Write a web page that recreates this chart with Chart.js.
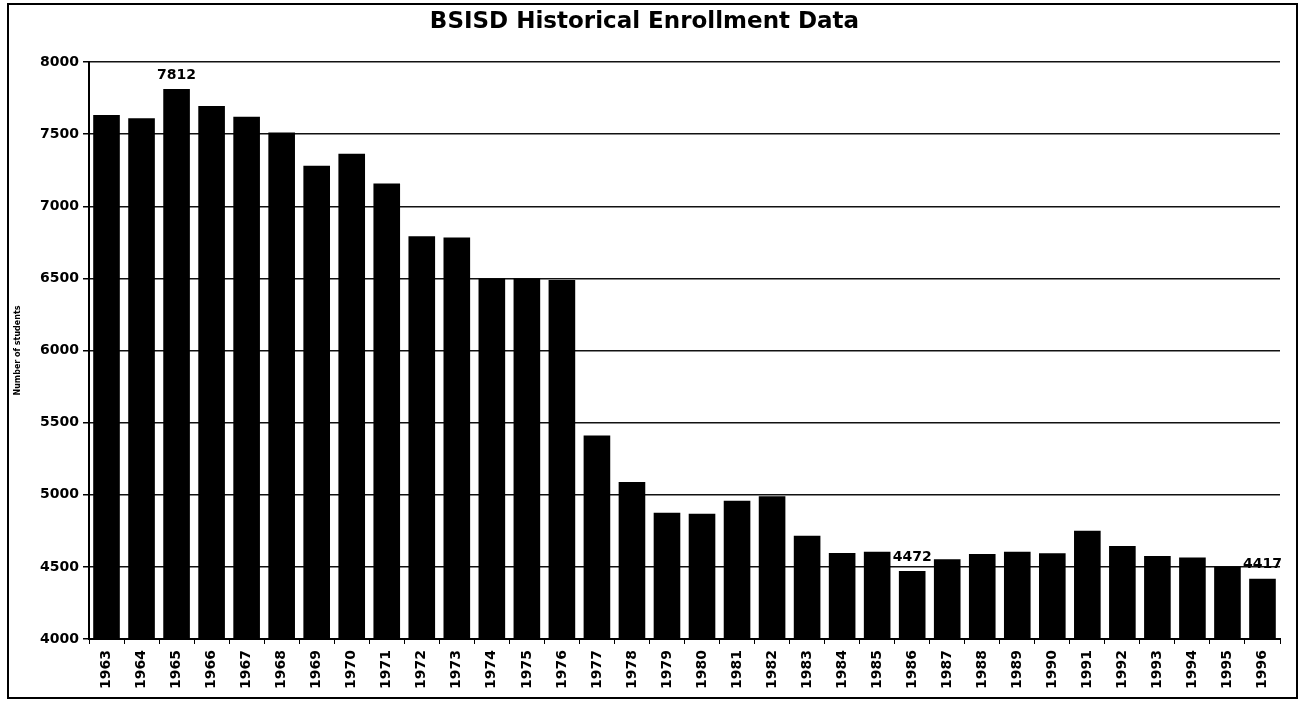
<!DOCTYPE html>
<html>
<head>
<meta charset="utf-8">
<title>BSISD Historical Enrollment Data</title>
<script src="https://cdn.jsdelivr.net/npm/chart.js@4.4.1/dist/chart.umd.min.js"></script>
<style>
  body { margin: 0; background: #fff; }
  .frame {
    position: absolute;
    left: 7px;
    top: 3px;
    width: 1287px;
    height: 692px;
    border: 2px solid #000;
  }
</style>
</head>
<body>
<div class="frame">
  <canvas id="myChart"></canvas>
</div>
<script>
// data
const years = ["1963", "1964", "1965", "1966", "1967", "1968", "1969", "1970", "1971", "1972",
  "1973", "1974", "1975", "1976", "1977", "1978", "1979", "1980", "1981", "1982",
  "1983", "1984", "1985", "1986", "1987", "1988", "1989", "1990", "1991", "1992",
  "1993", "1994", "1995", "1996"];
const enrollment = [7633, 7610, 7812, 7695, 7621, 7512, 7281, 7364, 7157, 6792,
  6783, 6500, 6500, 6488, 5411, 5088, 4875, 4868, 4958, 4990,
  4716, 4596, 4605, 4472, 4553, 4589, 4605, 4595, 4750, 4644,
  4575, 4565, 4503, 4417];
const labeledYears = ["1965", "1986", "1996"]; // bars with their value printed on top
const yMin = 4000;
const yMax = 8000;
const yStep = 500;

const font = "'DejaVu Sans', sans-serif";

// prints the value above a few selected bars
const valueLabels = {
  id: "valueLabels",
  afterDatasetsDraw(chart) {
    const ctx = chart.ctx;
    const meta = chart.getDatasetMeta(0);
    ctx.save();
    ctx.font = "bold 14px " + font;
    ctx.fillStyle = "#000";
    ctx.textAlign = "center";
    ctx.textBaseline = "bottom";
    labeledYears.forEach((y) => {
      const i = years.indexOf(y);
      const bar = meta.data[i];
      ctx.fillText(String(enrollment[i]), bar.x, bar.y - 7);
    });
    ctx.restore();
  }
};

new Chart(document.getElementById("myChart"), {
  type: "bar",
  data: {
    labels: years,
    datasets: [
      {
        label: "Number of students",
        data: enrollment,
        backgroundColor: "#000",
        borderWidth: 0,
        barPercentage: 0.76,
        categoryPercentage: 1.0,
      },
    ],
  },
  options: {
    responsive: true,
    maintainAspectRatio: false,
    animation: false,
    layout: { padding: { left: 0, right: 16, top: 0, bottom: 0 } },
    plugins: {
      legend: { display: false },
      tooltip: { enabled: false },
      title: {
        display: true,
        text: "BSISD Historical Enrollment Data",
        color: "#000",
        font: { family: font, size: 23, weight: "bold" },
        padding: { top: 3, bottom: 26.4 },
      },
    },
    scales: {
      x: {
        afterFit: (scale) => { scale.height = 58; },
        grid: {
          offset: true,
          drawOnChartArea: false,
          drawTicks: true,
          tickLength: 5,
          color: "#000",
        },
        border: { display: true, color: "#000", width: 2 },
        ticks: {
          color: "#000",
          minRotation: 90,
          maxRotation: 90,
          padding: 6,
          autoSkip: false,
          font: { family: font, size: 14, weight: "bold" },
        },
      },
      y: {
        min: yMin,
        max: yMax,
        afterFit: (scale) => { scale.width = 80; },
        grid: {
          color: "#111",
          lineWidth: 1.5,
          tickLength: 6,
          tickColor: "#000",
        },
        border: { display: true, color: "#000", width: 2 },
        ticks: {
          stepSize: yStep,
          color: "#000",
          padding: 4,
          callback: (value) => String(value),
          font: { family: font, size: 14, weight: "bold" },
        },
        title: {
          display: true,
          text: "Number of students",
          color: "#000",
          font: { family: font, size: 8, weight: "bold" },
          padding: { top: 4, bottom: 0 },
        },
      },
    },
  },
  plugins: [valueLabels],
});
</script>
</body>
</html>
